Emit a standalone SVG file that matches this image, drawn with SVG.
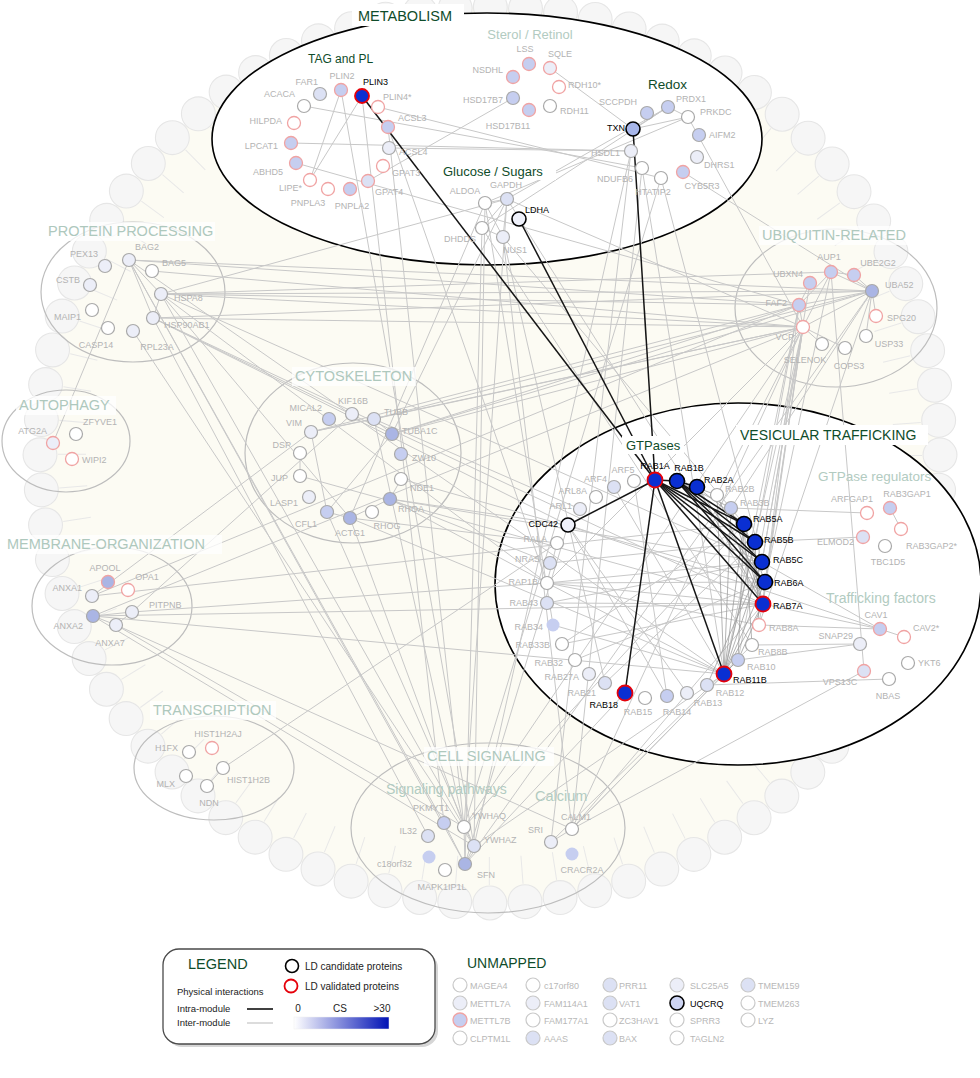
<svg xmlns="http://www.w3.org/2000/svg" width="980" height="1078" viewBox="0 0 980 1078">
<defs>
<style>
text{font-family:"Liberation Sans",Arial,sans-serif}
.gs{stroke:#a9a9a9;stroke-width:1.2}
.ps{stroke:#f0a3a3;stroke-width:1.3}
.ks{stroke:#000;stroke-width:1.6}
.rs{stroke:#e5000a;stroke-width:1.8}
.us{stroke:#c9c9c9;stroke-width:1.2}
.f0{fill:#fff}.f1{fill:#eceef8}.f2{fill:#dce1f4}.f3{fill:#c6cef0}.f4{fill:#aab5e4}.fb{fill:#0a2fd2}
.lb{font-size:9px;fill:#b3b3b3}
.lk{font-size:9px;fill:#000}
.lu{font-size:9px;fill:#b8b8b8}
.e{stroke:#c8c8c8;stroke-width:1;fill:none}
.m{stroke:#9a9a9a;stroke-width:1;opacity:.75}
.b{stroke:#151515;stroke-width:1.5}
.mod{fill:none;stroke:#bdbdbd;stroke-width:1.2}
.t1{font-size:14.5px;fill:#aec8bd}
.t3{font-size:13px;fill:#b2cbc1}
.t2{fill:#0f4c2a}
.bg{fill:#fff}
.bgs{fill:#fff;opacity:.75}
</style>
<linearGradient id="cs" x1="0" x2="1" y1="0" y2="0"><stop offset="0" stop-color="#fff"/><stop offset="1" stop-color="#0011b5"/></linearGradient>
</defs>
<rect width="980" height="1078" fill="#fff"/>
<g id="ring">
<ellipse cx="490" cy="455" rx="450" ry="448" fill="#fcfbf3"/>
<ellipse cx="490" cy="455" rx="418" ry="416" fill="none" stroke="#e8e8e8" stroke-width="28" stroke-dasharray="1 31.75"/>
<ellipse cx="490" cy="455" rx="450" ry="448" fill="none" stroke="#e6e6e6" stroke-width="35" stroke-linecap="round" stroke-dasharray="0 35.264"/>
<ellipse cx="490" cy="455" rx="450" ry="448" fill="none" stroke="#f6f6f6" stroke-width="32.8" stroke-linecap="round" stroke-dasharray="0 35.264"/>
</g>
<g id="modules">
<ellipse id="m-protein" cx="133" cy="292" rx="92" ry="70" class="mod"/>
<ellipse id="m-autophagy" cx="66" cy="441" rx="64" ry="51" class="mod"/>
<ellipse id="m-cyto" cx="353" cy="453" rx="108" ry="90" class="mod"/>
<ellipse id="m-ubi" cx="836" cy="308" rx="101" ry="79" class="mod"/>
<ellipse id="m-membrane" cx="112" cy="606" rx="80" ry="59" class="mod"/>
<ellipse id="m-trans" cx="214" cy="768" rx="80" ry="52" class="mod"/>
<ellipse id="m-signal" cx="488" cy="828" rx="137" ry="85" class="mod"/>
<ellipse id="m-metabolism" cx="487" cy="139" rx="275" ry="126" fill="#fff" stroke="#000" stroke-width="1.6"/>
<ellipse id="m-vesicular" cx="738" cy="584" rx="243" ry="181" fill="#fff" stroke="#000" stroke-width="1.6"/>
</g>
<g id="connectors">
<g id="inter">
<line class="e" x1="310" y1="180" x2="341" y2="90"/>
<line class="e" x1="310" y1="180" x2="362" y2="96"/>
<line class="e" x1="368" y1="181" x2="513" y2="98"/>
<line class="e" x1="304" y1="106" x2="642" y2="168"/>
<line class="e" x1="291" y1="143" x2="631" y2="151"/>
<line class="e" x1="296" y1="163" x2="799" y2="305"/>
<line class="e" x1="389" y1="148" x2="631" y2="151"/>
<line class="e" x1="378" y1="107" x2="661" y2="178"/>
<line class="e" x1="550" y1="68" x2="633" y2="129"/>
<line class="e" x1="633" y1="129" x2="668" y2="107"/>
<line class="e" x1="633" y1="129" x2="688" y2="117"/>
<line class="e" x1="668" y1="107" x2="688" y2="117"/>
<line class="e" x1="507" y1="199" x2="668" y2="107"/>
<line class="e" x1="485" y1="203" x2="688" y2="117"/>
<line class="e" x1="482" y1="228" x2="668" y2="107"/>
<line class="e" x1="507" y1="199" x2="485" y2="203"/>
<line class="e" x1="507" y1="199" x2="482" y2="228"/>
<line class="e" x1="507" y1="199" x2="503" y2="237"/>
<line class="e" x1="485" y1="203" x2="503" y2="237"/>
<line class="e" x1="482" y1="228" x2="503" y2="237"/>
<line class="e" x1="688" y1="117" x2="803" y2="327"/>
<line class="e" x1="683" y1="172" x2="872" y2="291"/>
<line class="e" x1="388" y1="127" x2="464" y2="827"/>
<line class="e" x1="362" y1="96" x2="444" y2="823"/>
<line class="e" x1="507" y1="199" x2="464" y2="827"/>
<line class="e" x1="507" y1="199" x2="763" y2="604"/>
<line class="e" x1="485" y1="203" x2="350" y2="518"/>
<line class="e" x1="485" y1="203" x2="474" y2="846"/>
<line class="e" x1="482" y1="228" x2="465" y2="864"/>
<line class="e" x1="503" y1="237" x2="572" y2="829"/>
<line class="e" x1="507" y1="199" x2="803" y2="327"/>
<line class="e" x1="661" y1="178" x2="464" y2="827"/>
<line class="e" x1="631" y1="151" x2="474" y2="846"/>
<line class="e" x1="642" y1="168" x2="724" y2="674"/>
<line class="e" x1="661" y1="178" x2="762" y2="562"/>
<line class="e" x1="503" y1="237" x2="744" y2="524"/>
<line class="e" x1="482" y1="228" x2="752" y2="645"/>
<line class="e" x1="485" y1="203" x2="553" y2="625"/>
<line class="e" x1="503" y1="237" x2="605" y2="683"/>
<line class="e" x1="341" y1="90" x2="474" y2="846"/>
<line class="e" x1="642" y1="168" x2="572" y2="829"/>
<line class="e" x1="631" y1="151" x2="551" y2="842"/>
<line class="e" x1="388" y1="127" x2="547" y2="583"/>
<line class="e" x1="129" y1="260" x2="161" y2="294"/>
<line class="e" x1="129" y1="260" x2="153" y2="318"/>
<line class="e" x1="161" y1="294" x2="153" y2="318"/>
<line class="e" x1="129" y1="260" x2="53" y2="443"/>
<line class="e" x1="129" y1="260" x2="872" y2="291"/>
<line class="e" x1="129" y1="260" x2="799" y2="305"/>
<line class="e" x1="152" y1="271" x2="803" y2="327"/>
<line class="e" x1="161" y1="294" x2="872" y2="291"/>
<line class="e" x1="161" y1="294" x2="799" y2="305"/>
<line class="e" x1="161" y1="294" x2="803" y2="327"/>
<line class="e" x1="161" y1="294" x2="831" y2="272"/>
<line class="e" x1="161" y1="294" x2="507" y2="199"/>
<line class="e" x1="153" y1="318" x2="803" y2="327"/>
<line class="e" x1="153" y1="318" x2="872" y2="291"/>
<line class="e" x1="153" y1="318" x2="763" y2="604"/>
<line class="e" x1="161" y1="294" x2="762" y2="562"/>
<line class="e" x1="153" y1="318" x2="428" y2="836"/>
<line class="e" x1="161" y1="294" x2="464" y2="827"/>
<line class="e" x1="129" y1="260" x2="444" y2="823"/>
<line class="e" x1="129" y1="260" x2="465" y2="864"/>
<line class="e" x1="133" y1="331" x2="474" y2="846"/>
<line class="e" x1="153" y1="318" x2="392" y2="434"/>
<line class="e" x1="161" y1="294" x2="350" y2="518"/>
<line class="e" x1="129" y1="260" x2="724" y2="674"/>
<line class="e" x1="153" y1="318" x2="568" y2="525"/>
<line class="e" x1="161" y1="294" x2="547" y2="583"/>
<line class="e" x1="311" y1="432" x2="374" y2="419"/>
<line class="e" x1="311" y1="432" x2="327" y2="512"/>
<line class="e" x1="374" y1="419" x2="392" y2="434"/>
<line class="e" x1="327" y1="512" x2="392" y2="434"/>
<line class="e" x1="327" y1="512" x2="350" y2="518"/>
<line class="e" x1="350" y1="518" x2="390" y2="499"/>
<line class="e" x1="390" y1="499" x2="401" y2="479"/>
<line class="e" x1="300" y1="453" x2="300" y2="476"/>
<line class="e" x1="300" y1="476" x2="763" y2="604"/>
<line class="e" x1="390" y1="499" x2="547" y2="583"/>
<line class="e" x1="390" y1="499" x2="762" y2="562"/>
<line class="e" x1="374" y1="419" x2="803" y2="327"/>
<line class="e" x1="392" y1="434" x2="799" y2="305"/>
<line class="e" x1="311" y1="432" x2="803" y2="327"/>
<line class="e" x1="350" y1="518" x2="464" y2="827"/>
<line class="e" x1="327" y1="512" x2="474" y2="846"/>
<line class="e" x1="374" y1="419" x2="464" y2="827"/>
<line class="e" x1="350" y1="518" x2="724" y2="674"/>
<line class="e" x1="374" y1="419" x2="872" y2="291"/>
<line class="e" x1="390" y1="499" x2="568" y2="525"/>
<line class="e" x1="401" y1="479" x2="765" y2="582"/>
<line class="e" x1="392" y1="434" x2="507" y2="199"/>
<line class="e" x1="872" y1="291" x2="392" y2="434"/>
<line class="e" x1="803" y1="327" x2="392" y2="434"/>
<line class="e" x1="799" y1="305" x2="311" y2="432"/>
<line class="e" x1="580" y1="509" x2="374" y2="419"/>
<line class="e" x1="557" y1="543" x2="350" y2="518"/>
<line class="e" x1="550" y1="563" x2="390" y2="499"/>
<line class="e" x1="831" y1="272" x2="872" y2="291"/>
<line class="e" x1="854" y1="275" x2="872" y2="291"/>
<line class="e" x1="831" y1="272" x2="854" y2="275"/>
<line class="e" x1="810" y1="283" x2="799" y2="305"/>
<line class="e" x1="799" y1="305" x2="803" y2="327"/>
<line class="e" x1="799" y1="305" x2="872" y2="291"/>
<line class="e" x1="803" y1="327" x2="872" y2="291"/>
<line class="e" x1="803" y1="327" x2="831" y2="272"/>
<line class="e" x1="831" y1="272" x2="799" y2="305"/>
<line class="e" x1="803" y1="327" x2="822" y2="344"/>
<line class="e" x1="803" y1="327" x2="845" y2="348"/>
<line class="e" x1="872" y1="291" x2="876" y2="316"/>
<line class="e" x1="872" y1="291" x2="866" y2="336"/>
<line class="e" x1="803" y1="327" x2="763" y2="604"/>
<line class="e" x1="803" y1="327" x2="762" y2="562"/>
<line class="e" x1="803" y1="327" x2="724" y2="674"/>
<line class="e" x1="803" y1="327" x2="759" y2="625"/>
<line class="e" x1="803" y1="327" x2="765" y2="582"/>
<line class="e" x1="803" y1="327" x2="738" y2="660"/>
<line class="e" x1="799" y1="305" x2="755" y2="542"/>
<line class="e" x1="799" y1="305" x2="763" y2="604"/>
<line class="e" x1="799" y1="305" x2="724" y2="674"/>
<line class="e" x1="810" y1="283" x2="762" y2="562"/>
<line class="e" x1="831" y1="272" x2="765" y2="582"/>
<line class="e" x1="872" y1="291" x2="759" y2="625"/>
<line class="e" x1="803" y1="327" x2="464" y2="827"/>
<line class="e" x1="803" y1="327" x2="572" y2="829"/>
<line class="e" x1="803" y1="327" x2="93" y2="616"/>
<line class="e" x1="799" y1="305" x2="92" y2="596"/>
<line class="e" x1="831" y1="272" x2="864" y2="671"/>
<line class="e" x1="872" y1="291" x2="731" y2="508"/>
<line class="e" x1="803" y1="327" x2="717" y2="495"/>
<line class="e" x1="803" y1="327" x2="547" y2="583"/>
<line class="e" x1="872" y1="291" x2="465" y2="864"/>
<line class="e" x1="92" y1="596" x2="311" y2="432"/>
<line class="e" x1="132" y1="612" x2="352" y2="414"/>
<line class="e" x1="93" y1="616" x2="132" y2="612"/>
<line class="e" x1="93" y1="616" x2="116" y2="625"/>
<line class="e" x1="116" y1="625" x2="132" y2="612"/>
<line class="e" x1="93" y1="616" x2="763" y2="604"/>
<line class="e" x1="93" y1="616" x2="724" y2="674"/>
<line class="e" x1="116" y1="625" x2="464" y2="827"/>
<line class="e" x1="93" y1="616" x2="474" y2="846"/>
<line class="e" x1="132" y1="612" x2="547" y2="583"/>
<line class="e" x1="92" y1="596" x2="744" y2="524"/>
<line class="e" x1="116" y1="625" x2="572" y2="829"/>
<line class="e" x1="207" y1="786" x2="223" y2="768"/>
<line class="e" x1="223" y1="768" x2="557" y2="543"/>
<line class="e" x1="464" y1="827" x2="465" y2="864"/>
<line class="e" x1="474" y1="846" x2="465" y2="864"/>
<line class="e" x1="444" y1="823" x2="465" y2="864"/>
<line class="e" x1="464" y1="827" x2="474" y2="846"/>
<line class="e" x1="572" y1="829" x2="551" y2="842"/>
<line class="e" x1="572" y1="829" x2="763" y2="604"/>
<line class="e" x1="572" y1="829" x2="724" y2="674"/>
<line class="e" x1="572" y1="829" x2="738" y2="660"/>
<line class="e" x1="551" y1="842" x2="752" y2="645"/>
<line class="e" x1="464" y1="827" x2="744" y2="524"/>
<line class="e" x1="474" y1="846" x2="724" y2="674"/>
<line class="e" x1="465" y1="864" x2="568" y2="525"/>
<line class="e" x1="572" y1="829" x2="864" y2="671"/>
<line class="e" x1="465" y1="864" x2="625" y2="693"/>
<line class="e" x1="568" y1="525" x2="687" y2="693"/>
<line class="e" x1="568" y1="525" x2="667" y2="696"/>
<line class="e" x1="557" y1="543" x2="547" y2="583"/>
<line class="e" x1="547" y1="583" x2="763" y2="604"/>
<line class="e" x1="547" y1="583" x2="759" y2="625"/>
<line class="e" x1="547" y1="583" x2="765" y2="582"/>
<line class="e" x1="547" y1="583" x2="762" y2="562"/>
<line class="e" x1="547" y1="583" x2="724" y2="674"/>
<line class="e" x1="550" y1="563" x2="755" y2="542"/>
<line class="e" x1="562" y1="644" x2="744" y2="524"/>
<line class="e" x1="547" y1="603" x2="763" y2="604"/>
<line class="e" x1="553" y1="625" x2="724" y2="674"/>
<line class="e" x1="547" y1="603" x2="762" y2="562"/>
<line class="e" x1="562" y1="644" x2="763" y2="604"/>
<line class="e" x1="575" y1="660" x2="765" y2="582"/>
<line class="e" x1="605" y1="683" x2="755" y2="542"/>
<line class="e" x1="614" y1="487" x2="724" y2="674"/>
<line class="e" x1="634" y1="481" x2="667" y2="696"/>
<line class="e" x1="568" y1="525" x2="880" y2="629"/>
<line class="e" x1="731" y1="508" x2="867" y2="513"/>
<line class="e" x1="755" y1="542" x2="863" y2="537"/>
<line class="e" x1="763" y1="604" x2="880" y2="629"/>
<line class="e" x1="759" y1="625" x2="880" y2="629"/>
<line class="e" x1="738" y1="660" x2="860" y2="644"/>
<line class="e" x1="752" y1="645" x2="860" y2="644"/>
<line class="e" x1="890" y1="508" x2="901" y2="529"/>
<line class="e" x1="880" y1="629" x2="904" y2="637"/>
<line class="e" x1="707" y1="685" x2="889" y2="679"/>
<line class="e" x1="762" y1="562" x2="880" y2="629"/>
</g>
<g id="mesh">
<line class="m" x1="724" y1="674" x2="744" y2="524"/>
<line class="m" x1="724" y1="674" x2="755" y2="542"/>
<line class="m" x1="724" y1="674" x2="762" y2="562"/>
<line class="m" x1="724" y1="674" x2="765" y2="582"/>
<line class="m" x1="724" y1="674" x2="763" y2="604"/>
<line class="m" x1="724" y1="674" x2="731" y2="508"/>
<line class="m" x1="724" y1="674" x2="717" y2="495"/>
<line class="m" x1="738" y1="660" x2="744" y2="524"/>
<line class="m" x1="738" y1="660" x2="763" y2="604"/>
<line class="m" x1="759" y1="625" x2="755" y2="542"/>
<line class="m" x1="752" y1="645" x2="744" y2="524"/>
<line class="m" x1="763" y1="604" x2="744" y2="524"/>
<line class="m" x1="765" y1="582" x2="744" y2="524"/>
<line class="m" x1="697" y1="487" x2="763" y2="604"/>
<line class="m" x1="697" y1="487" x2="765" y2="582"/>
<line class="m" x1="697" y1="487" x2="744" y2="524"/>
<line class="m" x1="677" y1="481" x2="731" y2="508"/>
<line class="m" x1="677" y1="481" x2="717" y2="495"/>
<line class="m" x1="717" y1="495" x2="763" y2="604"/>
<line class="m" x1="731" y1="508" x2="763" y2="604"/>
<line class="m" x1="724" y1="674" x2="738" y2="660"/>
<line class="m" x1="707" y1="685" x2="762" y2="562"/>
</g>
<g id="intra">
<line class="b" x1="362" y1="96" x2="655" y2="480"/>
<line class="b" x1="519" y1="219" x2="655" y2="480"/>
<line class="b" x1="633" y1="129" x2="655" y2="480"/>
<line class="b" x1="655" y1="480" x2="568" y2="525"/>
<line class="b" x1="655" y1="480" x2="677" y2="481"/>
<line class="b" x1="677" y1="481" x2="697" y2="487"/>
<line class="b" x1="655" y1="480" x2="744" y2="524"/>
<line class="b" x1="655" y1="480" x2="755" y2="542"/>
<line class="b" x1="655" y1="480" x2="762" y2="562"/>
<line class="b" x1="655" y1="480" x2="765" y2="582"/>
<line class="b" x1="655" y1="480" x2="763" y2="604"/>
<line class="b" x1="655" y1="480" x2="724" y2="674"/>
<line class="b" x1="655" y1="480" x2="625" y2="693"/>
<line class="b" x1="677" y1="481" x2="744" y2="524"/>
<line class="b" x1="677" y1="481" x2="755" y2="542"/>
<line class="b" x1="677" y1="481" x2="762" y2="562"/>
<line class="b" x1="677" y1="481" x2="765" y2="582"/>
</g>
</g>
<g id="nodes">
<g id="n-FAR1"><circle cx="320" cy="94" r="6.5" class="gs f2"/><text x="318" y="85" text-anchor="end" class="lb">FAR1</text></g>
<g id="n-PLIN2"><circle cx="341" cy="90" r="6.5" class="ps f3"/><text x="342" y="79" text-anchor="middle" class="lb">PLIN2</text></g>
<g id="n-PLIN3"><circle cx="362" cy="96" r="7" class="rs fb"/><text x="363" y="85" class="lk">PLIN3</text></g>
<g id="n-PLIN4"><circle cx="378" cy="107" r="6.5" class="ps f0"/><text x="383" y="100" class="lb">PLIN4*</text></g>
<g id="n-ACACA"><circle cx="304" cy="106" r="6.5" class="gs f0"/><text x="295" y="97" text-anchor="end" class="lb">ACACA</text></g>
<g id="n-HILPDA"><circle cx="294" cy="123" r="6.5" class="ps f0"/><text x="282" y="124" text-anchor="end" class="lb">HILPDA</text></g>
<g id="n-ACSL3"><circle cx="388" cy="127" r="6.5" class="ps f3"/><text x="398" y="121" class="lb">ACSL3</text></g>
<g id="n-LPCAT1"><circle cx="291" cy="143" r="6.5" class="ps f3"/><text x="278" y="149" text-anchor="end" class="lb">LPCAT1</text></g>
<g id="n-ACSL4"><circle cx="389" cy="148" r="6.5" class="gs f1"/><text x="399" y="155" class="lb">ACSL4</text></g>
<g id="n-ABHD5"><circle cx="296" cy="163" r="6.5" class="ps f3"/><text x="283" y="175" text-anchor="end" class="lb">ABHD5</text></g>
<g id="n-GPAT3"><circle cx="383" cy="166" r="6.5" class="ps f0"/><text x="392" y="176" class="lb">GPAT3</text></g>
<g id="n-LIPE"><circle cx="310" cy="180" r="6.5" class="ps f0"/><text x="302" y="191" text-anchor="end" class="lb">LIPE*</text></g>
<g id="n-PNPLA3"><circle cx="328" cy="189" r="6.5" class="ps f0"/><text x="308" y="206" text-anchor="middle" class="lb">PNPLA3</text></g>
<g id="n-PNPLA2"><circle cx="350" cy="189" r="6.5" class="ps f3"/><text x="352" y="209" text-anchor="middle" class="lb">PNPLA2</text></g>
<g id="n-GPAT4"><circle cx="368" cy="181" r="6.5" class="ps f2"/><text x="375" y="195" class="lb">GPAT4</text></g>
<g id="n-LSS"><circle cx="529" cy="64" r="6.5" class="ps f3"/><text x="525" y="52" text-anchor="middle" class="lb">LSS</text></g>
<g id="n-SQLE"><circle cx="550" cy="68" r="6.5" class="ps f1"/><text x="560" y="57" text-anchor="middle" class="lb">SQLE</text></g>
<g id="n-NSDHL"><circle cx="513" cy="77" r="6.5" class="ps f3"/><text x="503" y="73" text-anchor="end" class="lb">NSDHL</text></g>
<g id="n-RDH10"><circle cx="559" cy="87" r="6.5" class="ps f0"/><text x="568" y="88" class="lb">RDH10*</text></g>
<g id="n-HSD17B7"><circle cx="513" cy="98" r="6.5" class="gs f3"/><text x="503" y="103" text-anchor="end" class="lb">HSD17B7</text></g>
<g id="n-HSD17B11"><circle cx="529" cy="110" r="6.5" class="ps f3"/><text x="508" y="129" text-anchor="middle" class="lb">HSD17B11</text></g>
<g id="n-RDH11"><circle cx="550" cy="106" r="6.5" class="gs f0"/><text x="560" y="114" class="lb">RDH11</text></g>
<g id="n-SCCPDH"><circle cx="647" cy="113" r="6.5" class="gs f3"/><text x="637" y="105" text-anchor="end" class="lb">SCCPDH</text></g>
<g id="n-PRDX1"><circle cx="668" cy="107" r="6.5" class="gs f3"/><text x="676" y="102" class="lb">PRDX1</text></g>
<g id="n-PRKDC"><circle cx="688" cy="117" r="6.5" class="gs f0"/><text x="700" y="115" class="lb">PRKDC</text></g>
<g id="n-TXN"><circle cx="633" cy="129" r="7" class="ks" fill="#a7b6ea"/><text x="625" y="131" text-anchor="end" class="lk">TXN</text></g>
<g id="n-AIFM2"><circle cx="699" cy="135" r="6.5" class="gs f3"/><text x="709" y="138" class="lb">AIFM2</text></g>
<g id="n-HSDL1"><circle cx="631" cy="151" r="6.5" class="gs f1"/><text x="620" y="156" text-anchor="end" class="lb">HSDL1</text></g>
<g id="n-DHRS1"><circle cx="697" cy="157" r="6.5" class="gs f1"/><text x="704" y="168" class="lb">DHRS1</text></g>
<g id="n-NDUFB6"><circle cx="642" cy="168" r="6.5" class="gs f0"/><text x="633" y="182" text-anchor="end" class="lb">NDUFB6</text></g>
<g id="n-HTATIP2"><circle cx="661" cy="178" r="6.5" class="gs f0"/><text x="653" y="195" text-anchor="middle" class="lb">HTATIP2</text></g>
<g id="n-CYB5R3"><circle cx="683" cy="172" r="6.5" class="ps f3"/><text x="702" y="189" text-anchor="middle" class="lb">CYB5R3</text></g>
<g id="n-ALDOA"><circle cx="485" cy="203" r="6.5" class="gs f0"/><text x="465" y="194" text-anchor="middle" class="lb">ALDOA</text></g>
<g id="n-GAPDH"><circle cx="507" cy="199" r="6.5" class="gs f2"/><text x="506" y="188" text-anchor="middle" class="lb">GAPDH</text></g>
<g id="n-LDHA"><circle cx="519" cy="219" r="7" class="ks" fill="#eef0fa"/><text x="525" y="213" class="lk">LDHA</text></g>
<g id="n-DHDDS"><circle cx="482" cy="228" r="6.5" class="gs f0"/><text x="460" y="242" text-anchor="middle" class="lb">DHDDS</text></g>
<g id="n-NUS1"><circle cx="503" cy="237" r="6.5" class="gs f1"/><text x="515" y="253" text-anchor="middle" class="lb">NUS1</text></g>
<g id="n-PEX13"><circle cx="105" cy="266" r="6.5" class="gs f1"/><text x="98" y="257" text-anchor="end" class="lb">PEX13</text></g>
<g id="n-BAG2"><circle cx="129" cy="260" r="6.5" class="gs f1"/><text x="147" y="250" text-anchor="middle" class="lb">BAG2</text></g>
<g id="n-BAG5"><circle cx="152" cy="271" r="6.5" class="gs f0"/><text x="162" y="266" class="lb">BAG5</text></g>
<g id="n-CSTB"><circle cx="90" cy="285" r="6.5" class="gs f1"/><text x="80" y="283" text-anchor="end" class="lb">CSTB</text></g>
<g id="n-HSPA8"><circle cx="161" cy="294" r="6.5" class="gs f1"/><text x="174" y="301" class="lb">HSPA8</text></g>
<g id="n-MAIP1"><circle cx="92" cy="310" r="6.5" class="gs f0"/><text x="81" y="320" text-anchor="end" class="lb">MAIP1</text></g>
<g id="n-HSP90AB1"><circle cx="153" cy="318" r="6.5" class="gs f1"/><text x="164" y="328" class="lb">HSP90AB1</text></g>
<g id="n-CASP14"><circle cx="108" cy="328" r="6.5" class="gs f0"/><text x="96" y="348" text-anchor="middle" class="lb">CASP14</text></g>
<g id="n-RPL23A"><circle cx="133" cy="331" r="6.5" class="gs f1"/><text x="157" y="350" text-anchor="middle" class="lb">RPL23A</text></g>
<g id="n-ATG2A"><circle cx="53" cy="443" r="6.5" class="ps f1"/><text x="47" y="434" text-anchor="end" class="lb">ATG2A</text></g>
<g id="n-ZFYVE1"><circle cx="76" cy="434" r="6.5" class="gs f0"/><text x="83" y="425" class="lb">ZFYVE1</text></g>
<g id="n-WIPI2"><circle cx="72" cy="459" r="6.5" class="ps f0"/><text x="82" y="463" class="lb">WIPI2</text></g>
<g id="n-MICAL2"><circle cx="329" cy="419" r="6.5" class="gs f3"/><text x="322" y="411" text-anchor="end" class="lb">MICAL2</text></g>
<g id="n-KIF16B"><circle cx="352" cy="414" r="6.5" class="gs f1"/><text x="353" y="404" text-anchor="middle" class="lb">KIF16B</text></g>
<g id="n-TUBB"><circle cx="374" cy="419" r="6.5" class="gs f2"/><text x="384" y="415" class="lb">TUBB</text></g>
<g id="n-VIM"><circle cx="311" cy="432" r="6.5" class="gs f1"/><text x="302" y="426" text-anchor="end" class="lb">VIM</text></g>
<g id="n-TUBA1C"><circle cx="392" cy="434" r="6.5" class="gs f4"/><text x="402" y="434" class="lb">TUBA1C</text></g>
<g id="n-DSP"><circle cx="300" cy="453" r="6.5" class="gs f0"/><text x="291" y="448" text-anchor="end" class="lb">DSP</text></g>
<g id="n-ZW10"><circle cx="401" cy="454" r="6.5" class="gs f3"/><text x="412" y="461" class="lb">ZW10</text></g>
<g id="n-JUP"><circle cx="300" cy="476" r="6.5" class="gs f0"/><text x="288" y="481" text-anchor="end" class="lb">JUP</text></g>
<g id="n-NDE1"><circle cx="401" cy="479" r="6.5" class="gs f0"/><text x="410" y="491" class="lb">NDE1</text></g>
<g id="n-LASP1"><circle cx="309" cy="497" r="6.5" class="gs f1"/><text x="298" y="506" text-anchor="end" class="lb">LASP1</text></g>
<g id="n-RHOA"><circle cx="390" cy="499" r="6.5" class="gs f4"/><text x="398" y="512" class="lb">RHOA</text></g>
<g id="n-CFL1"><circle cx="327" cy="512" r="6.5" class="gs f3"/><text x="317" y="527" text-anchor="end" class="lb">CFL1</text></g>
<g id="n-ACTG1"><circle cx="350" cy="518" r="6.5" class="gs f4"/><text x="350" y="536" text-anchor="middle" class="lb">ACTG1</text></g>
<g id="n-RHOG"><circle cx="372" cy="512" r="6.5" class="gs f0"/><text x="387" y="529" text-anchor="middle" class="lb">RHOG</text></g>
<g id="n-AUP1"><circle cx="831" cy="272" r="6.5" class="ps f3"/><text x="829" y="260" text-anchor="middle" class="lb">AUP1</text></g>
<g id="n-UBE2G2"><circle cx="854" cy="275" r="6.5" class="ps f3"/><text x="878" y="266" text-anchor="middle" class="lb">UBE2G2</text></g>
<g id="n-UBXN4"><circle cx="810" cy="283" r="6.5" class="ps f3"/><text x="803" y="277" text-anchor="end" class="lb">UBXN4</text></g>
<g id="n-UBA52"><circle cx="872" cy="291" r="6.5" class="gs f4"/><text x="885" y="288" class="lb">UBA52</text></g>
<g id="n-FAF2"><circle cx="799" cy="305" r="6.5" class="ps f3"/><text x="787" y="306" text-anchor="end" class="lb">FAF2</text></g>
<g id="n-SPG20"><circle cx="876" cy="316" r="6.5" class="ps f0"/><text x="887" y="321" class="lb">SPG20</text></g>
<g id="n-VCP"><circle cx="803" cy="327" r="6.5" class="ps f0"/><text x="794" y="340" text-anchor="end" class="lb">VCP</text></g>
<g id="n-USP33"><circle cx="866" cy="336" r="6.5" class="gs f0"/><text x="889" y="347" text-anchor="middle" class="lb">USP33</text></g>
<g id="n-SELENOK"><circle cx="822" cy="344" r="6.5" class="gs f0"/><text x="805" y="363" text-anchor="middle" class="lb">SELENOK</text></g>
<g id="n-COPS3"><circle cx="845" cy="348" r="6.5" class="gs f0"/><text x="849" y="369" text-anchor="middle" class="lb">COPS3</text></g>
<g id="n-ARF5"><circle cx="634" cy="481" r="6.5" class="gs f0"/><text x="623" y="473" text-anchor="middle" class="lb">ARF5</text></g>
<g id="n-ARF4"><circle cx="614" cy="487" r="6.5" class="gs f2"/><text x="607" y="482" text-anchor="end" class="lb">ARF4</text></g>
<g id="n-ARL8A"><circle cx="596" cy="497" r="6.5" class="gs f0"/><text x="587" y="494" text-anchor="end" class="lb">ARL8A</text></g>
<g id="n-ARL1"><circle cx="580" cy="509" r="6.5" class="gs f1"/><text x="572" y="509" text-anchor="end" class="lb">ARL1</text></g>
<g id="n-RALA"><circle cx="557" cy="543" r="6.5" class="gs f0"/><text x="547" y="542" text-anchor="end" class="lb">RALA</text></g>
<g id="n-NRAS"><circle cx="550" cy="563" r="6.5" class="gs f2"/><text x="540" y="562" text-anchor="end" class="lb">NRAS</text></g>
<g id="n-RAP1B"><circle cx="547" cy="583" r="6.5" class="gs f0"/><text x="538" y="585" text-anchor="end" class="lb">RAP1B</text></g>
<g id="n-RAB43"><circle cx="547" cy="603" r="6.5" class="gs f2"/><text x="538" y="606" text-anchor="end" class="lb">RAB43</text></g>
<g id="n-RAB34"><circle cx="553" cy="625" r="6.5" class="f3"/><text x="543" y="630" text-anchor="end" class="lb">RAB34</text></g>
<g id="n-RAB33B"><circle cx="562" cy="644" r="6.5" class="gs f0"/><text x="550" y="648" text-anchor="end" class="lb">RAB33B</text></g>
<g id="n-RAB32"><circle cx="575" cy="660" r="6.5" class="gs f0"/><text x="563" y="666" text-anchor="end" class="lb">RAB32</text></g>
<g id="n-RAB27A"><circle cx="589" cy="674" r="6.5" class="gs f1"/><text x="579" y="680" text-anchor="end" class="lb">RAB27A</text></g>
<g id="n-RAB21"><circle cx="605" cy="683" r="6.5" class="gs f2"/><text x="596" y="696" text-anchor="end" class="lb">RAB21</text></g>
<g id="n-RAB15"><circle cx="645" cy="698" r="6.5" class="gs f0"/><text x="638" y="715" text-anchor="middle" class="lb">RAB15</text></g>
<g id="n-RAB14"><circle cx="667" cy="696" r="6.5" class="gs f3"/><text x="677" y="715" text-anchor="middle" class="lb">RAB14</text></g>
<g id="n-RAB13"><circle cx="687" cy="693" r="6.5" class="gs f1"/><text x="708" y="706" text-anchor="middle" class="lb">RAB13</text></g>
<g id="n-RAB12"><circle cx="707" cy="685" r="6.5" class="gs f2"/><text x="730" y="696" text-anchor="middle" class="lb">RAB12</text></g>
<g id="n-RAB10"><circle cx="738" cy="660" r="6.5" class="gs f3"/><text x="747" y="670" class="lb">RAB10</text></g>
<g id="n-RAB8B"><circle cx="752" cy="645" r="6.5" class="gs f0"/><text x="758" y="655" class="lb">RAB8B</text></g>
<g id="n-RAB8A"><circle cx="759" cy="625" r="6.5" class="ps f0"/><text x="769" y="631" class="lb">RAB8A</text></g>
<g id="n-RAB3B"><circle cx="731" cy="508" r="6.5" class="gs f3"/><text x="740" y="506" class="lb">RAB3B</text></g>
<g id="n-RAB2B"><circle cx="717" cy="495" r="6.5" class="gs f0"/><text x="725" y="492" class="lb">RAB2B</text></g>
<g id="n-CDC42"><circle cx="568" cy="525" r="7" class="ks" fill="#eef0fa"/><text x="558" y="527" text-anchor="end" class="lk">CDC42</text></g>
<g id="n-RAB1A"><circle cx="655" cy="480" r="7.5" class="rs fb"/><text x="655" y="469" text-anchor="middle" class="lk">RAB1A</text></g>
<g id="n-RAB1B"><circle cx="677" cy="481" r="7.5" class="ks fb"/><text x="689" y="471" text-anchor="middle" class="lk">RAB1B</text></g>
<g id="n-RAB2A"><circle cx="697" cy="487" r="7.5" class="ks fb"/><text x="704" y="483" class="lk">RAB2A</text></g>
<g id="n-RAB5A"><circle cx="744" cy="524" r="7.5" class="ks fb"/><text x="753" y="522" class="lk">RAB5A</text></g>
<g id="n-RAB5B"><circle cx="755" cy="542" r="7.5" class="ks fb"/><text x="764" y="543" class="lk">RAB5B</text></g>
<g id="n-RAB5C"><circle cx="762" cy="562" r="7.5" class="ks fb"/><text x="773" y="563" class="lk">RAB5C</text></g>
<g id="n-RAB6A"><circle cx="765" cy="582" r="7.5" class="ks fb"/><text x="774" y="586" class="lk">RAB6A</text></g>
<g id="n-RAB7A"><circle cx="763" cy="604" r="7.5" class="rs fb"/><text x="773" y="609" class="lk">RAB7A</text></g>
<g id="n-RAB11B"><circle cx="724" cy="674" r="7.5" class="rs fb"/><text x="733" y="683" class="lk">RAB11B</text></g>
<g id="n-RAB18"><circle cx="625" cy="693" r="7.5" class="rs fb"/><text x="618" y="708" text-anchor="end" class="lk">RAB18</text></g>
<g id="n-ARFGAP1"><circle cx="867" cy="513" r="6.5" class="ps f0"/><text x="852" y="502" text-anchor="middle" class="lb">ARFGAP1</text></g>
<g id="n-RAB3GAP1"><circle cx="890" cy="508" r="6.5" class="ps f3"/><text x="907" y="497" text-anchor="middle" class="lb">RAB3GAP1</text></g>
<g id="n-ELMOD2"><circle cx="863" cy="537" r="6.5" class="ps f2"/><text x="854" y="545" text-anchor="end" class="lb">ELMOD2</text></g>
<g id="n-RAB3GAP2"><circle cx="901" cy="529" r="6.5" class="ps f0"/><text x="906" y="549" class="lb">RAB3GAP2*</text></g>
<g id="n-TBC1D5"><circle cx="885" cy="546" r="6.5" class="gs f0"/><text x="888" y="565" text-anchor="middle" class="lb">TBC1D5</text></g>
<g id="n-CAV1"><circle cx="880" cy="629" r="6.5" class="ps f3"/><text x="876" y="618" text-anchor="middle" class="lb">CAV1</text></g>
<g id="n-CAV2"><circle cx="904" cy="637" r="6.5" class="ps f0"/><text x="913" y="631" class="lb">CAV2*</text></g>
<g id="n-SNAP29"><circle cx="860" cy="644" r="6.5" class="gs f1"/><text x="853" y="639" text-anchor="end" class="lb">SNAP29</text></g>
<g id="n-YKT6"><circle cx="908" cy="663" r="6.5" class="gs f0"/><text x="918" y="666" class="lb">YKT6</text></g>
<g id="n-VPS13C"><circle cx="864" cy="671" r="6.5" class="ps f2"/><text x="840" y="685" text-anchor="middle" class="lb">VPS13C</text></g>
<g id="n-NBAS"><circle cx="889" cy="679" r="6.5" class="gs f0"/><text x="888" y="699" text-anchor="middle" class="lb">NBAS</text></g>
<g id="n-APOOL"><circle cx="108" cy="582" r="6.5" class="ps f4"/><text x="105" y="571" text-anchor="middle" class="lb">APOOL</text></g>
<g id="n-OPA1"><circle cx="128" cy="590" r="6.5" class="ps f0"/><text x="147" y="580" text-anchor="middle" class="lb">OPA1</text></g>
<g id="n-ANXA1"><circle cx="92" cy="596" r="6.5" class="gs f1"/><text x="82" y="591" text-anchor="end" class="lb">ANXA1</text></g>
<g id="n-PITPNB"><circle cx="132" cy="612" r="6.5" class="gs f1"/><text x="149" y="608" class="lb">PITPNB</text></g>
<g id="n-ANXA2"><circle cx="93" cy="616" r="6.5" class="gs f4"/><text x="83" y="629" text-anchor="end" class="lb">ANXA2</text></g>
<g id="n-ANXA7"><circle cx="116" cy="625" r="6.5" class="gs f1"/><text x="110" y="646" text-anchor="middle" class="lb">ANXA7</text></g>
<g id="n-HIST1H2AJ"><circle cx="212" cy="748" r="6.5" class="ps f0"/><text x="218" y="737" text-anchor="middle" class="lb">HIST1H2AJ</text></g>
<g id="n-H1FX"><circle cx="189" cy="752" r="6.5" class="gs f0"/><text x="178" y="751" text-anchor="end" class="lb">H1FX</text></g>
<g id="n-HIST1H2B"><circle cx="223" cy="768" r="6.5" class="gs f0"/><text x="227" y="783" class="lb">HIST1H2B</text></g>
<g id="n-MLX"><circle cx="186" cy="776" r="6.5" class="gs f0"/><text x="175" y="787" text-anchor="end" class="lb">MLX</text></g>
<g id="n-NDN"><circle cx="207" cy="786" r="6.5" class="gs f0"/><text x="209" y="806" text-anchor="middle" class="lb">NDN</text></g>
<g id="n-PKMYT1"><circle cx="444" cy="823" r="6.5" class="gs f3"/><text x="431" y="811" text-anchor="middle" class="lb">PKMYT1</text></g>
<g id="n-YWHAQ"><circle cx="464" cy="827" r="6.5" class="gs f0"/><text x="472" y="819" class="lb">YWHAQ</text></g>
<g id="n-IL32"><circle cx="428" cy="836" r="6.5" class="gs f2"/><text x="417" y="834" text-anchor="end" class="lb">IL32</text></g>
<g id="n-YWHAZ"><circle cx="474" cy="846" r="6.5" class="gs f2"/><text x="484" y="843" class="lb">YWHAZ</text></g>
<g id="n-C18ORF32"><circle cx="429" cy="857" r="6.5" class="f3"/><text x="412" y="867" text-anchor="end" class="lb">c18orf32</text></g>
<g id="n-MAPK1IP1L"><circle cx="445" cy="870" r="6.5" class="gs f0"/><text x="442" y="890" text-anchor="middle" class="lb">MAPK1IP1L</text></g>
<g id="n-SFN"><circle cx="465" cy="864" r="6.5" class="gs f4"/><text x="486" y="878" text-anchor="middle" class="lb">SFN</text></g>
<g id="n-SRI"><circle cx="551" cy="842" r="6.5" class="gs f1"/><text x="543" y="833" text-anchor="end" class="lb">SRI</text></g>
<g id="n-CALM1"><circle cx="572" cy="829" r="6.5" class="gs f0"/><text x="576" y="820" text-anchor="middle" class="lb">CALM1</text></g>
<g id="n-CRACR2A"><circle cx="572" cy="854" r="6.5" class="f3"/><text x="582" y="873" text-anchor="middle" class="lb">CRACR2A</text></g>
</g>
<g id="titles">
<rect x="352" y="4" width="112" height="22" class="bg"/>
<text x="358" y="21" font-size="14.5" class="t2">METABOLISM</text>
<text x="308" y="63" font-size="12" class="t2">TAG and PL</text>
<text x="530" y="38.5" text-anchor="middle" class="t3">Sterol / Retinol</text>
<text x="648" y="89" font-size="13.5" class="t2">Redox</text>
<rect x="440" y="161" width="116" height="19" class="bg"/>
<text x="443" y="176" font-size="13" class="t2">Glucose / Sugars</text>
<rect x="45" y="222" width="170" height="19" class="bgs"/>
<text x="48" y="236" class="t1">PROTEIN PROCESSING</text>
<rect x="16" y="396" width="100" height="19" class="bgs"/>
<text x="19" y="410" class="t1">AUTOPHAGY</text>
<rect x="292" y="367" width="124" height="19" class="bgs"/>
<text x="295" y="381" class="t1">CYTOSKELETON</text>
<rect x="759" y="226" width="154" height="19" class="bgs"/>
<text x="762" y="240" class="t1">UBIQUITIN-RELATED</text>
<rect x="4" y="535" width="218" height="19" class="bgs"/>
<text x="7" y="549" class="t1">MEMBRANE-ORGANIZATION</text>
<rect x="150" y="701" width="126" height="19" class="bgs"/>
<text x="153" y="715" class="t1">TRANSCRIPTION</text>
<rect x="424" y="747" width="130" height="19" class="bgs"/>
<text x="427" y="761" class="t1">CELL SIGNALING</text>
<text x="386" y="794" font-size="14" fill="#b2cbc1">Signaling pathways</text>
<text x="535" y="801" font-size="14.5" fill="#b2cbc1">Calcium</text>
<rect x="736" y="425" width="192" height="20" class="bg"/>
<text x="740" y="440" font-size="14" class="t2">VESICULAR TRAFFICKING</text>
<rect x="622" y="436" width="62" height="18" class="bg"/>
<text x="626" y="450" font-size="13" class="t2">GTPases</text>
<text x="818" y="481" font-size="13.5" fill="#b2cbc1">GTPase regulators</text>
<text x="826" y="603" font-size="14" fill="#b2cbc1">Trafficking factors</text>
</g>
<g id="legend">
<rect x="166" y="952" width="272" height="95" rx="16" fill="#d6d6d6"/>
<rect x="163" y="949" width="272" height="95" rx="16" fill="#fff" stroke="#4a4a4a" stroke-width="1.3"/>
<text x="188" y="969" font-size="14.5" class="t2">LEGEND</text>
<circle cx="292" cy="966" r="6.5" fill="#fff" stroke="#000" stroke-width="1.6"/>
<text x="305" y="969.5" font-size="10" fill="#222">LD candidate proteins</text>
<circle cx="291" cy="986" r="6.5" fill="#fff" stroke="#e5000a" stroke-width="1.8"/>
<text x="305" y="989.5" font-size="10" fill="#222">LD validated proteins</text>
<text x="177" y="995" font-size="9.5" fill="#222">Physical interactions</text>
<text x="177" y="1012" font-size="9.5" fill="#222">Intra-module</text>
<line x1="247" y1="1009" x2="273" y2="1009" stroke="#000" stroke-width="1.5"/>
<text x="177" y="1026" font-size="9.5" fill="#222">Inter-module</text>
<line x1="247" y1="1023" x2="273" y2="1023" stroke="#d0d0d0" stroke-width="1.5"/>
<text x="298" y="1012" font-size="10" text-anchor="middle" fill="#222">0</text>
<text x="340" y="1012" font-size="10" text-anchor="middle" fill="#222">CS</text>
<text x="382" y="1012" font-size="10" text-anchor="middle" fill="#222">&gt;30</text>
<rect x="294" y="1017" width="95" height="12" fill="url(#cs)" stroke="#eee" stroke-width="0.5"/>
</g>
<g id="unmapped">
<text x="467" y="968" font-size="14" class="t2">UNMAPPED</text>
<g id="u-MAGEA4"><circle cx="460" cy="985" r="7" class="us f0"/><text x="470" y="988.5" class="lu">MAGEA4</text></g>
<g id="u-METTL7A"><circle cx="460" cy="1003" r="7" class="us f1"/><text x="470" y="1006.5" class="lu">METTL7A</text></g>
<g id="u-METTL7B"><circle cx="460" cy="1020" r="7" class="ps f3"/><text x="470" y="1023.5" class="lu">METTL7B</text></g>
<g id="u-CLPTM1L"><circle cx="460" cy="1038" r="7" class="us f0"/><text x="470" y="1041.5" class="lu">CLPTM1L</text></g>
<g id="u-C17ORF80"><circle cx="533" cy="985" r="7" class="us f0"/><text x="544" y="988.5" class="lu">c17orf80</text></g>
<g id="u-FAM114A1"><circle cx="533" cy="1003" r="7" class="us f1"/><text x="544" y="1006.5" class="lu">FAM114A1</text></g>
<g id="u-FAM177A1"><circle cx="533" cy="1020" r="7" class="us f0"/><text x="544" y="1023.5" class="lu">FAM177A1</text></g>
<g id="u-AAAS"><circle cx="533" cy="1038" r="7" class="us f2"/><text x="544" y="1041.5" class="lu">AAAS</text></g>
<g id="u-PRR11"><circle cx="610" cy="985" r="7" class="us f2"/><text x="619" y="988.5" class="lu">PRR11</text></g>
<g id="u-VAT1"><circle cx="610" cy="1003" r="7" class="us f2"/><text x="619" y="1006.5" class="lu">VAT1</text></g>
<g id="u-ZC3HAV1"><circle cx="610" cy="1020" r="7" class="us f0"/><text x="619" y="1023.5" class="lu">ZC3HAV1</text></g>
<g id="u-BAX"><circle cx="610" cy="1038" r="7" class="us f2"/><text x="619" y="1041.5" class="lu">BAX</text></g>
<g id="u-SLC25A5"><circle cx="677" cy="985" r="7" class="us f1"/><text x="690" y="988.5" class="lu">SLC25A5</text></g>
<g id="u-UQCRQ"><circle cx="677" cy="1003" r="7" class="ks" fill="#cdd4f2"/><text x="690" y="1006.5" class="lk">UQCRQ</text></g>
<g id="u-SPRR3"><circle cx="677" cy="1020" r="7" class="us f0"/><text x="690" y="1023.5" class="lu">SPRR3</text></g>
<g id="u-TAGLN2"><circle cx="677" cy="1038" r="7" class="us f0"/><text x="690" y="1041.5" class="lu">TAGLN2</text></g>
<g id="u-TMEM159"><circle cx="748" cy="985" r="7" class="us f2"/><text x="758" y="988.5" class="lu">TMEM159</text></g>
<g id="u-TMEM263"><circle cx="748" cy="1003" r="7" class="us f0"/><text x="758" y="1006.5" class="lu">TMEM263</text></g>
<g id="u-LYZ"><circle cx="748" cy="1020" r="7" class="us f0"/><text x="758" y="1023.5" class="lu">LYZ</text></g>
</g>
</svg>
